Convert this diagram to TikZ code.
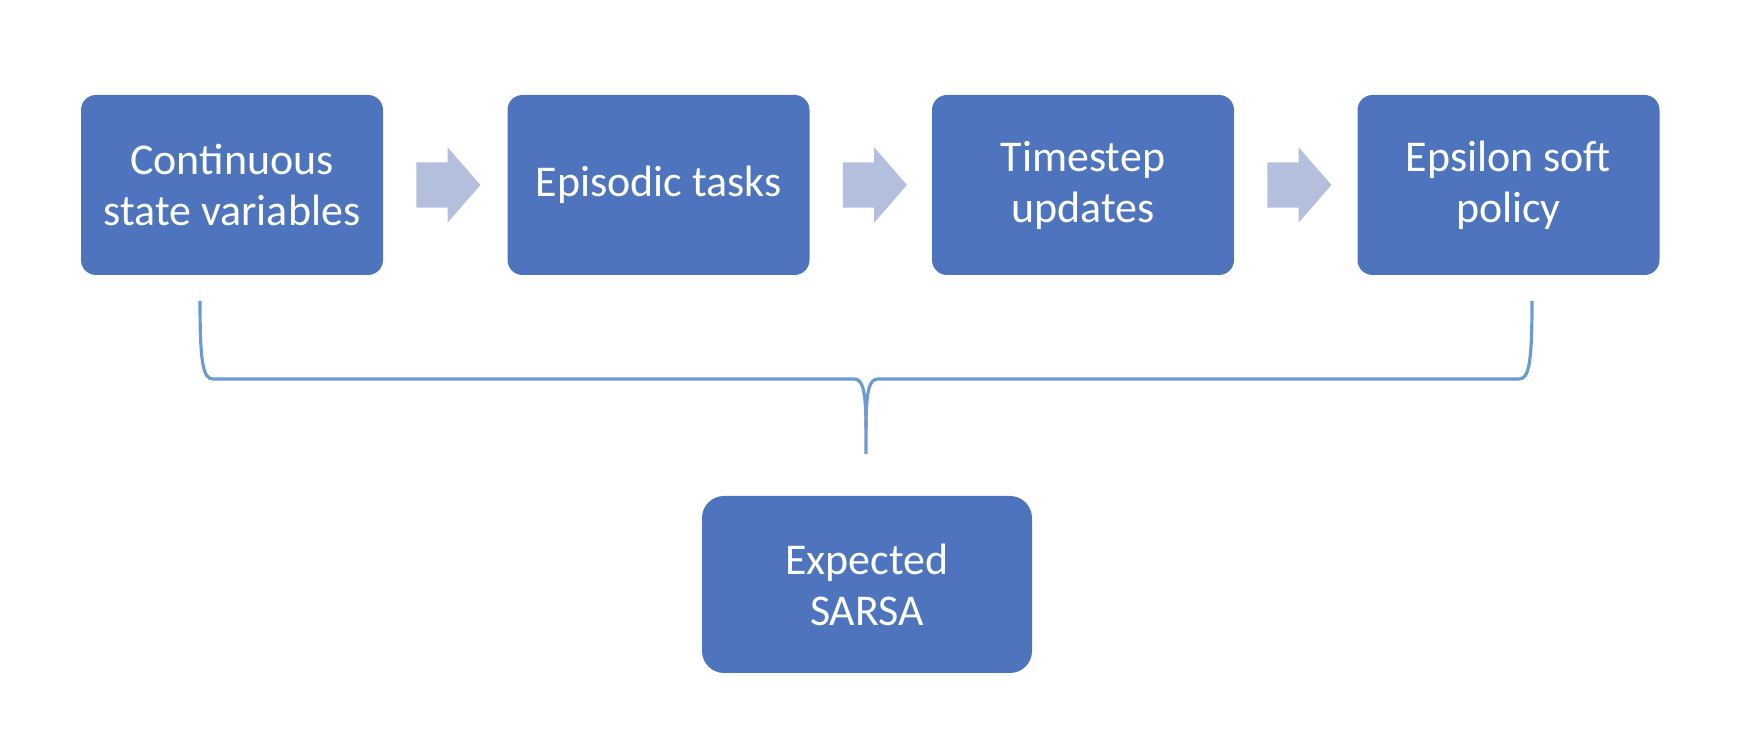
\documentclass[tikz,border=0pt]{standalone}
\usepackage{fontspec}
\setmainfont{Carlito}
\usetikzlibrary{shapes.arrows}
\definecolor{boxblue}{HTML}{4E74BE}
\definecolor{arrowgray}{HTML}{B4BFDE}
\definecolor{braceblue}{HTML}{6A9BD2}
\begin{document}
\begin{tikzpicture}[
    stepbox/.style={rectangle, rounded corners=0.15cm, fill=boxblue, text=white,
        minimum width=3.02cm, minimum height=1.80cm, align=center,
        font=\fontsize{12.5}{14.5}\selectfont},
    blockarrow/.style={single arrow, fill=arrowgray, draw=none, anchor=tail,
        inner xsep=0pt, inner ysep=0.22cm,
        minimum height=0.64cm, single arrow head extend=0.15cm,
        single arrow tip angle=98}]
    \useasboundingbox (0,0) rectangle (17.46,7.48);

    % Top row
    \node[stepbox] (cont) at (2.32,5.63) {Continuous\\state variables};
    \node[stepbox] (epis) at (6.585,5.63) {Episodic tasks};
    \node[stepbox] (time) at (10.83,5.63) {Timestep\\updates};
    \node[stepbox] (eps) at (15.085,5.63) {Epsilon soft\\policy};

    % Arrows between steps
    \node[blockarrow] (a1) at ([xshift=0.32cm]cont.east) {};
    \node[blockarrow] (a2) at ([xshift=0.32cm]epis.east) {};
    \node[blockarrow] (a3) at ([xshift=0.32cm]time.east) {};

    % Result
    \node[stepbox, rounded corners=0.22cm, minimum width=3.30cm, minimum height=1.77cm]
        (sarsa) at (8.67,1.635) {Expected\\SARSA};

    % Brace
    \coordinate (bl) at (2.00,4.47);
    \coordinate (br) at (15.32,4.47);
    \coordinate (bt) at (8.66,2.94);
    \draw[braceblue, line width=0.9pt] (bl) .. controls (2.00,3.85) and (2.03,3.69) .. (2.13,3.69)
        -- (8.54,3.69) .. controls (8.62,3.69) and (8.66,3.60) .. (8.66,3.20) -- (bt);
    \draw[braceblue, line width=0.9pt] (br) .. controls (15.32,3.85) and (15.29,3.69) .. (15.19,3.69)
        -- (8.78,3.69) .. controls (8.70,3.69) and (8.66,3.60) .. (8.66,3.20);
\end{tikzpicture}
\end{document}
